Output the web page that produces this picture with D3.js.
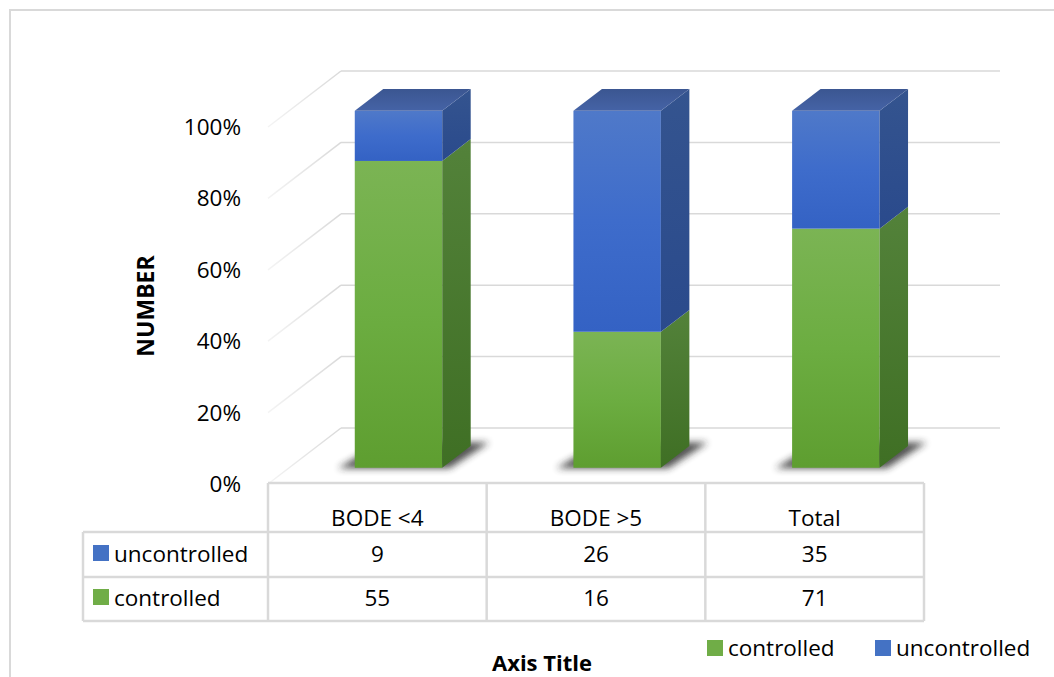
<!DOCTYPE html>
<html>
<head>
<meta charset="utf-8">
<script src="https://cdn.jsdelivr.net/npm/d3@7"></script>
<style>
  html, body { margin: 0; padding: 0; background: #fff; }
  svg { display: block; }
  text { font-family: "Open Sans", Lato, sans-serif; fill: #000; }
</style>
</head>
<body>
<svg id="chart" width="1054" height="677"></svg>
<script>
// ---- data ----
const categories = ["BODE <4", "BODE >5", "Total"];
const seriesNames = ["controlled", "uncontrolled"];
const controlled = [55, 16, 71];
const uncontrolled = [9, 26, 35];
const tickValues = [0, 0.2, 0.4, 0.6, 0.8, 1];
const seriesColors = { controlled: "#70AD47", uncontrolled: "#4472C4" };

const svg = d3.select("#chart");
const W = 1054, H = 677;
const FS = 22.5;

// ---- projection of the 3D box ----
const plotLeft = 268, plotRight = 924;
const yFront = d3.scaleLinear().domain([0, 1]).range([484, 127]);
const depth = d3.scaleLinear().domain([0, 1]).range([0, 1]);
const DX = 73, DY = 56;            // offset of the back wall from the front plane
const zFront = 0.29, zBack = 0.68; // depth extent of the columns

const x = d3.scaleBand().domain(categories).range([plotLeft, plotRight])
  .paddingInner(0.6).paddingOuter(0.3);
const step = x.step();

function P(px, v, z) {
  const d = depth(z);
  return [px + d * DX, yFront(v) - d * DY];
}
const pts = arr => arr.map(p => p.join(",")).join(" ");

// ---- defs: gradients & blur ----
const defs = svg.append("defs");
function grad(id, stops, vertical = true) {
  const g = defs.append("linearGradient").attr("id", id)
    .attr("x1", 0).attr("y1", 0).attr("x2", vertical ? 0 : 1).attr("y2", vertical ? 1 : 0);
  stops.forEach(([o, c]) => g.append("stop").attr("offset", o).attr("stop-color", c));
}
grad("gFrontGreen", [[0, "#7bb454"], [0.5, "#6cad41"], [1, "#5e9e30"]]);
grad("gSideGreen", [[0, "#53823a"], [1, "#3f6f24"]]);
grad("gFrontBlue", [[0, "#4f79c9"], [0.5, "#3e6ccb"], [1, "#3462c4"]]);
grad("gSideBlue", [[0, "#34548f"], [1, "#2a4a8c"]]);
grad("gTopBlue", [[0, "#3b5691"], [1, "#4563a6"]]);
grad("gTopGreen", [[0, "#5b8c3e"], [1, "#6a9e48"]]);
grad("gWall", [[0, "#f4f4f4"], [1, "#d9d9d9"]], false);
defs.append("filter").attr("id", "shadowBlur").attr("x", "-30%").attr("y", "-60%")
  .attr("width", "160%").attr("height", "220%")
  .append("feGaussianBlur").attr("stdDeviation", 3.5);

// ---- outer chart frame ----
svg.append("rect").attr("x", 10).attr("y", 10).attr("width", W + 20).attr("height", H + 20)
  .attr("fill", "none").attr("stroke", "#d9d9d9").attr("stroke-width", 2);

// ---- walls: back-wall gridlines and side-wall diagonals ----
const grid = svg.append("g");
tickValues.forEach(v => {
  const a = P(plotLeft, v, 0), b = P(plotLeft, v, 1), c = P(plotRight + 3, v, 1);
  grid.append("line").attr("x1", a[0]).attr("y1", a[1]).attr("x2", b[0]).attr("y2", b[1])
    .attr("stroke", "url(#gWall)").attr("stroke-width", 1.5);
  grid.append("line").attr("x1", b[0]).attr("y1", b[1]).attr("x2", c[0]).attr("y2", c[1])
    .attr("stroke", "#d9d9d9").attr("stroke-width", 1.5);
});

// ---- stacked 100% columns ----
const stackData = categories.map((c, i) => ({ cat: c, controlled: controlled[i], uncontrolled: uncontrolled[i] }));
const stacked = d3.stack().keys(seriesNames).offset(d3.stackOffsetExpand)(stackData);

const bars = svg.append("g");
// soft shadows on the floor
categories.forEach(c => {
  const x0 = x(c) - 16, x1 = x(c) + x.bandwidth() + 14;
  bars.append("polygon")
    .attr("points", pts([P(x0, 0, zFront - 0.01), P(x1 - 6, 0, zFront - 0.01), P(x1, 0, zBack + 0.06), P(x0 + 10, 0, zBack + 0.06)]))
    .attr("fill", "#262626").attr("opacity", 0.8).attr("filter", "url(#shadowBlur)");
});

stacked.forEach((layer, li) => {
  const key = layer.key;
  const isGreen = key === "controlled";
  layer.forEach(seg => {
    const c = seg.data.cat;
    const x0 = x(c), x1 = x(c) + x.bandwidth();
    const v0 = seg[0], v1 = seg[1];
    const g = bars.append("g");
    // front face
    const f0 = P(x0, v1, zFront), f1 = P(x1, v0, zFront);
    g.append("rect").attr("x", f0[0]).attr("y", f0[1])
      .attr("width", f1[0] - f0[0]).attr("height", f1[1] - f0[1])
      .attr("fill", isGreen ? "url(#gFrontGreen)" : "url(#gFrontBlue)");
    // right side face
    g.append("polygon")
      .attr("points", pts([P(x1, v0, zFront), P(x1, v1, zFront), P(x1, v1, zBack), P(x1, v0, zBack)]))
      .attr("fill", isGreen ? "url(#gSideGreen)" : "url(#gSideBlue)");
    // top face (only the uppermost segment shows it)
    if (li === stacked.length - 1) {
      g.append("polygon")
        .attr("points", pts([P(x0, v1, zFront), P(x1, v1, zFront), P(x1, v1, zBack), P(x0, v1, zBack)]))
        .attr("fill", isGreen ? "url(#gTopGreen)" : "url(#gTopBlue)");
    }
  });
});

// ---- value axis labels ----
const yAxis = svg.append("g");
yAxis.selectAll("text").data(tickValues).join("text")
  .attr("x", 241).attr("y", d => yFront(d) + 8)
  .attr("text-anchor", "end").attr("font-size", FS)
  .text(d => d3.format(".0%")(d));

svg.append("text").attr("transform", "translate(154,306) rotate(-90)")
  .attr("text-anchor", "middle").attr("font-size", 23).attr("font-weight", "bold")
  .text("NUMBER");

// ---- data table ----
const tbl = svg.append("g");
const tableLeft = 83, rowTop = [483, 532, 577, 621];
const lineStyle = s => s.attr("stroke", "#d9d9d9").attr("stroke-width", 2.5).attr("fill", "none");
const colEdges = categories.map(c => x(c) - step * 0.3).concat([plotRight]);

// horizontal rules
tbl.append("line").attr("x1", plotLeft).attr("x2", plotRight).attr("y1", rowTop[0]).attr("y2", rowTop[0]).call(lineStyle);
[1, 2, 3].forEach(r => tbl.append("line").attr("x1", tableLeft).attr("x2", plotRight)
  .attr("y1", rowTop[r]).attr("y2", rowTop[r]).call(lineStyle));
// vertical rules
colEdges.forEach(cx => tbl.append("line").attr("x1", cx).attr("x2", cx)
  .attr("y1", rowTop[0]).attr("y2", rowTop[3]).call(lineStyle));
tbl.append("line").attr("x1", tableLeft).attr("x2", tableLeft)
  .attr("y1", rowTop[1]).attr("y2", rowTop[3]).call(lineStyle);

// header row
tbl.selectAll("text.hdr").data(categories).join("text").attr("class", "hdr")
  .attr("x", c => x(c) + x.bandwidth() / 2).attr("y", 526)
  .attr("text-anchor", "middle").attr("font-size", FS).text(c => c);

// series rows: uncontrolled first, then controlled
const rows = [
  { name: "uncontrolled", values: uncontrolled, y: 562 },
  { name: "controlled", values: controlled, y: 606 }
];
rows.forEach(r => {
  tbl.append("rect").attr("x", 93).attr("y", r.y - 17).attr("width", 16).attr("height", 16)
    .attr("fill", seriesColors[r.name]);
  tbl.append("text").attr("x", 114).attr("y", r.y).attr("font-size", FS).text(r.name);
  tbl.selectAll(null).data(r.values).join("text")
    .attr("x", (d, i) => x(categories[i]) + x.bandwidth() / 2).attr("y", r.y)
    .attr("text-anchor", "middle").attr("font-size", FS).text(d => d);
});

// ---- legend ----
const legend = svg.append("g");
const legendItems = [
  { name: "controlled", x: 707 },
  { name: "uncontrolled", x: 875 }
];
legendItems.forEach(it => {
  legend.append("rect").attr("x", it.x).attr("y", 640).attr("width", 16).attr("height", 16)
    .attr("fill", seriesColors[it.name]);
  legend.append("text").attr("x", it.x + 21).attr("y", 656).attr("font-size", FS).text(it.name);
});

// ---- category axis title ----
svg.append("text").attr("x", 542).attr("y", 671).attr("text-anchor", "middle")
  .attr("font-size", 22).attr("font-weight", "bold").text("Axis Title");
</script>
</body>
</html>
